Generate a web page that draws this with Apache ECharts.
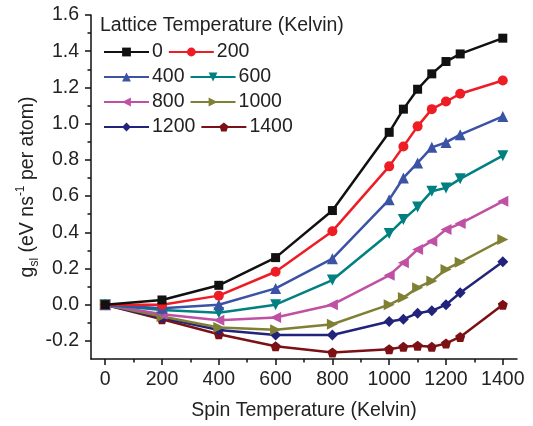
<!DOCTYPE html>
<html><head><meta charset="utf-8">
<script src="https://cdn.jsdelivr.net/npm/echarts@6/dist/echarts.min.js"></script>
<style>html,body{margin:0;padding:0;background:#fff}#c{width:533px;height:426px}</style>
</head><body><div id="c"></div>
<script>
const spinT = [0, 200, 400, 600, 800, 1000, 1050, 1100, 1150, 1200, 1250, 1400];
const lattice = ['0', '200', '400', '600', '800', '1000', '1200', '1400'];
const g0    = [0, 0.026, 0.107, 0.26, 0.52, 0.952, 1.08, 1.19, 1.275, 1.343, 1.385, 1.472];
const g200  = [0, 0.0, 0.05, 0.182, 0.406, 0.764, 0.874, 0.985, 1.08, 1.122, 1.165, 1.238];
const g400  = [0, -0.02, 0.0, 0.09, 0.254, 0.58, 0.70, 0.783, 0.869, 0.896, 0.939, 1.04];
const g600  = [0, -0.03, -0.044, 0.0, 0.136, 0.393, 0.47, 0.54, 0.627, 0.645, 0.695, 0.823];
const g800  = [0, -0.053, -0.086, -0.071, 0.0, 0.162, 0.232, 0.305, 0.351, 0.415, 0.448, 0.571];
const g1000 = [0, -0.065, -0.126, -0.138, -0.108, 0.0, 0.039, 0.094, 0.131, 0.195, 0.235, 0.36];
const g1200 = [0, -0.072, -0.14, -0.167, -0.167, -0.093, -0.08, -0.047, -0.034, 0.0, 0.066, 0.237];
const g1400 = [0, -0.08, -0.163, -0.23, -0.264, -0.246, -0.233, -0.227, -0.233, -0.214, -0.178, 0.0];
const xTicks = [0, 200, 400, 600, 800, 1000, 1200, 1400];
const xMinor = [100, 300, 500, 700, 900, 1100, 1300];
const yTicks = [-0.2, 0, 0.2, 0.4, 0.6, 0.8, 1.0, 1.2, 1.4, 1.6];
const yMinor = [-0.1, 0.1, 0.3, 0.5, 0.7, 0.9, 1.1, 1.3, 1.5];

const allData = [g0, g200, g400, g600, g800, g1000, g1200, g1400];
const colors = ['#111111', '#ee1c25', '#3a53a4', '#008080', '#c050a3', '#808035', '#22237a', '#7d1015'];
const pent = 'path://M0,-1 L0.951,-0.309 L0.588,0.809 L-0.588,0.809 L-0.951,-0.309 Z';
const symbols = ['rect', 'circle', 'triangle', 'triangle', 'triangle', 'triangle', 'diamond', pent];
const rots = [0, 0, 0, 180, 90, -90, 0, 0];
const sizes = [9, 10, 11, 11, 11, 11, 11, 10];

const font = 'Liberation Sans, Arial, sans-serif';
const FS = 19.5;
const chart = echarts.init(document.getElementById('c'));
const series = allData.map((d, i) => ({
  name: lattice[i],
  type: 'line',
  data: spinT.map((x, j) => [x, d[j]]),
  symbol: symbols[i],
  symbolRotate: rots[i],
  symbolSize: sizes[i],
  showAllSymbol: true,
  color: colors[i],
  lineStyle: {width: 2.5, color: colors[i]},
  itemStyle: {color: colors[i]},
  z: 10 - i,
  animation: false
}));

chart.setOption({
  animation: false,
  grid: {left: 91, right: 16, top: 15, bottom: 66, containLabel: false},
  graphic: [{type: 'text', left: 100, top: 16,
    style: {text: 'Lattice Temperature (Kelvin)', font: FS + 'px ' + font, fill: '#222'}}],
  legend: {
    left: 98, top: 37, width: 205, itemWidth: 45, itemHeight: 11, itemGap: 5,
    textStyle: {fontSize: FS, fontFamily: font, color: '#222', padding: [0, 0, 0, -2]},
    data: lattice
  },
  xAxis: [{
    type: 'value', min: -50, max: 1450,
    name: 'Spin Temperature (Kelvin)', nameLocation: 'middle', nameGap: 42, nameMoveOverlap: false,
    nameTextStyle: {fontSize: FS, fontFamily: font, color: '#222'},
    axisLine: {show: true, onZero: false, lineStyle: {color: '#111', width: 1.5}},
    axisTick: {show: true, customValues: xTicks, length: 6, inside: false, lineStyle: {color: '#111', width: 1.5}},
    axisLabel: {customValues: xTicks, fontSize: FS, fontFamily: font, color: '#222', margin: 11,
      formatter: v => String(Math.round(v))},
    splitLine: {show: false}
  }, {
    type: 'value', min: -50, max: 1450, position: 'bottom',
    axisLine: {show: false, onZero: false},
    axisTick: {show: true, customValues: xMinor, length: 3.5, lineStyle: {color: '#111', width: 1.5}},
    axisLabel: {show: false}, splitLine: {show: false}
  }],
  yAxis: [{
    type: 'value', min: -0.3, max: 1.6,
    name: '{n|g}{sub|sl}{n| (eV ns}{sup|-1}{n| per atom)}',
    nameLocation: 'middle', nameRotate: 90, nameGap: 50, nameMoveOverlap: false,
    nameTextStyle: {
      fontFamily: font, color: '#222',
      rich: {
        n: {fontSize: FS, fontFamily: font, color: '#222', lineHeight: 26, verticalAlign: 'middle'},
        sub: {fontSize: 12, fontFamily: font, color: '#222', lineHeight: 26, verticalAlign: 'bottom'},
        sup: {fontSize: 12, fontFamily: font, color: '#222', lineHeight: 26, verticalAlign: 'top'}
      }
    },
    axisLine: {show: true, onZero: false, lineStyle: {color: '#111', width: 1.5}},
    axisTick: {show: true, customValues: yTicks, length: 6, lineStyle: {color: '#111', width: 1.5}},
    axisLabel: {customValues: yTicks, fontSize: FS, fontFamily: font, color: '#222', margin: 12,
      formatter: v => v.toFixed(1)},
    splitLine: {show: false}
  }, {
    type: 'value', min: -0.3, max: 1.6, position: 'left', offset: 0,
    axisLine: {show: false, onZero: false},
    axisTick: {show: true, customValues: yMinor, length: 3.5, lineStyle: {color: '#111', width: 1.5}},
    axisLabel: {show: false}, splitLine: {show: false}
  }],
  series: series
});
</script></body></html>
